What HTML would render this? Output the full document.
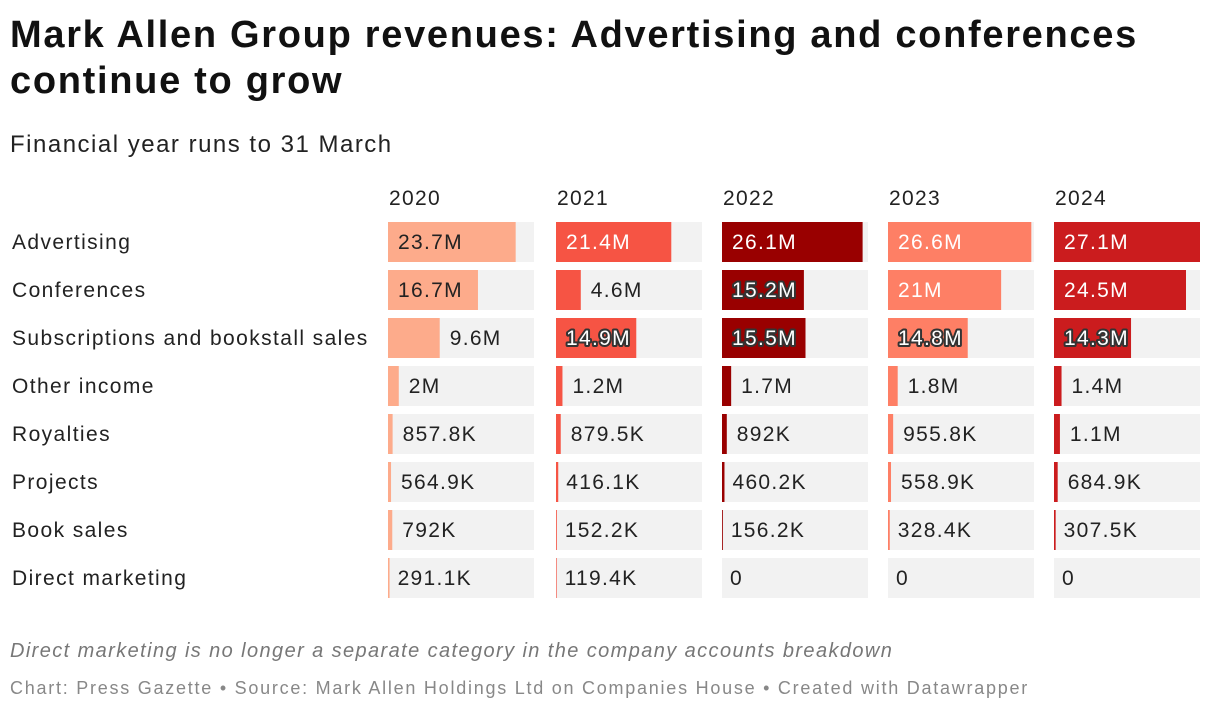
<!DOCTYPE html>
<html><head><meta charset="utf-8"><style>
body{margin:0;background:#fff;font-family:"Liberation Sans",Arial,sans-serif;color:#1d1d1d;width:1220px;height:712px;overflow:hidden;position:relative}
.t{position:absolute;white-space:nowrap}
</style></head><body>
<div class="t" style="left:10px;top:12px;font-size:38px;font-weight:bold;line-height:46px;color:#111;letter-spacing:1.7px">Mark Allen Group revenues: Advertising and conferences<br>continue to grow</div>
<div class="t" style="left:10px;top:131px;font-size:24px;color:#222;letter-spacing:1.5px">Financial year runs to 31 March</div>
<div class="t" style="left:10px;top:640px;font-size:20px;font-style:italic;color:#777;letter-spacing:1.4px">Direct marketing is no longer a separate category in the company accounts breakdown</div>
<div class="t" style="left:10px;top:678px;font-size:18px;color:#888;letter-spacing:1.75px">Chart: Press Gazette • Source: Mark Allen Holdings Ltd on Companies House • Created with Datawrapper</div>
<svg id="c" width="1220" height="712" style="position:absolute;left:0;top:0"></svg>
<script>
const categories=["Advertising","Conferences","Subscriptions and bookstall sales","Other income","Royalties","Projects","Book sales","Direct marketing"];
const years=["2020","2021","2022","2023","2024"];
const v2020=[23.7,16.7,9.6,2,0.8578,0.5649,0.792,0.2911];
const v2021=[21.4,4.6,14.9,1.2,0.8795,0.4161,0.1522,0.1194];
const v2022=[26.1,15.2,15.5,1.7,0.892,0.4602,0.1562,0];
const v2023=[26.6,21,14.8,1.8,0.9558,0.5589,0.3284,0];
const v2024=[27.1,24.5,14.3,1.4,1.1,0.6849,0.3075,0];
const colors=["#fdab8b","#f65444","#990000","#fe7f65","#cb1c1e"];
const series=[v2020,v2021,v2022,v2023,v2024];
const NS="http://www.w3.org/2000/svg",svg=document.getElementById("c");
const colX=[388,556,722,888,1054],colW=146,domainMax=27.1;
const x=v=>v/domainMax*colW;
const y=i=>242+48*i;
function fmt(v){if(v===0)return"0";if(v>=1)return(+v.toFixed(1))+"M";return(+(v*1000).toFixed(1))+"K";}
function mk(t,a){const e=document.createElementNS(NS,t);for(const k in a)e.setAttribute(k,a[k]);svg.appendChild(e);return e;}
function tw(s){return s.length*16;}
categories.forEach((c,i)=>{
  const t=mk("text",{x:12,y:y(i)+7,"font-size":21,fill:"#222","letter-spacing":"1.4"});
  
  
  t.textContent=c;
});
years.forEach((yr,j)=>{
  const h=mk("text",{x:colX[j]+1,y:205,"font-size":21,fill:"#222","letter-spacing":"1.3"});
  
  
  h.textContent=yr;
  series[j].forEach((v,i)=>{
    const bg=mk("rect",{x:colX[j],y:y(i)-20,width:colW,height:40,fill:"#f2f2f2"});
    
    
    const w=x(v);
    const b=mk("rect",{x:colX[j],y:y(i)-20,width:w,height:40,fill:colors[j]});
    
    
    const s=fmt(v);let tx,fill="#222",outline=false;
    if(w<60){tx=colX[j]+w+(w<3?8:10);}
    else{tx=colX[j]+10;
      if(j===0){fill="#222";}
      else if(w>=tw(s)+16){fill="#fff";}
      else{fill="#fff";outline=true;}}
    const t=mk("text",{x:tx,y:y(i)+7,"font-size":21,fill:fill,"letter-spacing":"1.3"});
    if(outline){t.setAttribute("stroke","#333");t.setAttribute("stroke-width","4");t.setAttribute("paint-order","stroke");t.setAttribute("stroke-linejoin","round");}
    
    
    t.textContent=s;
  });
});
</script></body></html>
